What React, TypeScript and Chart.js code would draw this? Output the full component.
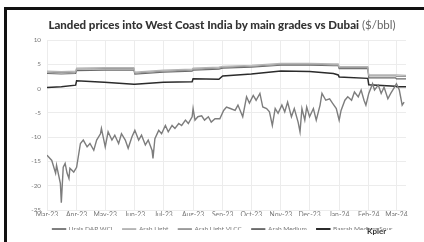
import React, { useEffect, useRef } from "react";
import { Chart, registerables } from "chart.js";

Chart.register(...registerables);

// Month ticks (days since 1 Mar 2023)
const monthDays = [0, 31, 61, 92, 122, 153, 184, 214, 245, 275, 306, 337, 366];
const monthLabels = ["Mar-23", "Apr-23", "May-23", "Jun-23", "Jul-23", "Aug-23", "Sep-23", "Oct-23", "Nov-23", "Dec-23", "Jan-24", "Feb-24", "Mar-24"];

// Urals DAP WCI (noisy series)
const uralsDays = [0, 5, 9, 10, 14, 15, 17, 19, 21, 23, 24, 28, 31, 35, 38, 42, 45, 49, 52, 56, 57, 61, 64, 68, 71, 75, 78, 82, 85, 89, 92, 96, 99, 103, 106, 110, 111, 113, 117, 120, 124, 127, 131, 134, 138, 141, 145, 148, 152, 153, 155, 158, 162, 165, 169, 172, 176, 181, 185, 188, 192, 197, 200, 205, 209, 212, 216, 219, 223, 226, 230, 233, 236, 239, 242, 246, 249, 252, 256, 259, 263, 265, 267, 270, 272, 275, 279, 282, 286, 288, 292, 296, 299, 303, 306, 308, 312, 315, 319, 322, 326, 329, 332, 334, 337, 341, 343, 347, 350, 353, 357, 360, 364, 366, 369, 372, 374];
const uralsValues = [-13.7, -14.8, -17.4, -15.8, -19.5, -23.5, -16.2, -15.4, -17.4, -18.5, -16.4, -17.2, -16.2, -11.3, -10.6, -12.0, -11.3, -12.7, -10.6, -9.3, -8.2, -12.0, -8.9, -10.6, -9.6, -11.3, -9.3, -10.6, -12.3, -9.9, -8.6, -10.6, -9.6, -11.6, -10.6, -12.7, -14.4, -10.3, -8.6, -9.3, -7.6, -8.9, -7.6, -8.2, -7.2, -7.6, -6.5, -7.2, -5.8, -4.1, -6.5, -5.8, -5.6, -6.5, -5.8, -6.9, -6.2, -6.2, -4.5, -3.8, -4.1, -4.5, -3.4, -5.8, -1.7, -3.0, -1.4, -2.4, -1.0, -3.8, -4.1, -4.8, -7.6, -4.1, -5.1, -3.4, -4.8, -2.8, -5.8, -4.1, -6.9, -8.9, -4.1, -6.5, -3.8, -5.8, -4.1, -6.5, -3.4, -1.0, -2.4, -2.1, -3.0, -4.1, -6.5, -4.5, -2.4, -1.7, -2.4, -0.7, -1.7, -0.3, -2.4, -3.4, -1.0, 1.0, -0.3, 0.7, -1.0, 0.3, -2.1, -1.0, 0.3, 1.0, -0.3, -3.4, -2.8];

// Step-like grades
const stepDays = [0, 15, 30, 31, 60, 91, 92, 122, 152, 153, 180, 184, 214, 245, 275, 300, 305, 306, 336, 337, 365, 366, 376];
const arabLight = [3.6, 3.5, 3.6, 4.2, 4.3, 4.3, 3.4, 3.8, 4.0, 4.2, 4.4, 4.6, 4.8, 5.2, 5.2, 5.1, 5.1, 4.5, 4.5, 2.8, 2.8, 2.8, 2.7];
const arabLightVLCC = [3.4, 3.3, 3.4, 4.0, 4.1, 4.1, 3.2, 3.6, 3.8, 4.0, 4.2, 4.4, 4.6, 5.0, 5.0, 4.9, 4.9, 4.3, 4.3, 2.6, 2.6, 2.5, 2.5];
const arabMedium = [3.1, 3.0, 3.1, 3.7, 3.8, 3.8, 3.0, 3.4, 3.6, 3.8, 4.0, 4.2, 4.4, 4.8, 4.8, 4.7, 4.7, 4.1, 4.1, 2.2, 2.2, 2.0, 2.0];
const basrahMediumSour = [0.2, 0.4, 0.7, 1.6, 1.3, 0.9, 0.9, 1.3, 1.4, 2.0, 1.9, 2.6, 3.0, 3.6, 3.5, 3.1, 2.8, 2.4, 2.1, 0.8, 0.5, 0.4, 0.4];

const seriesNames = ["Urals DAP WCI", "Arab Light", "Arab Light VLCC", "Arab Medium", "Basrah Medium Sour"];
const seriesColors = ["#7d7d7d", "#b4b4b4", "#9a9a9a", "#6a6a6a", "#2b2b2b"];
const seriesWidths = [1.4, 1.2, 1.2, 1.2, 1.5];

const yTicks = [10, 5, 0, -5, -10, -15, -20, -25];

function pts(xs: number[], ys: number[]) {
  return xs.map((x, i) => ({ x, y: ys[i] }));
}

// shift the legend row to the right so it is centred under the plot like the reference
const legendShift = {
  id: "legendShift",
  afterLayout(chart: any) {
    const lg = chart.legend;
    if (!lg) return;
    lg.left += 16;
    lg.right += 16;
  },
};

export default function App() {
  const ref = useRef<HTMLCanvasElement | null>(null);
  useEffect(() => {
    if (!ref.current) return;
    const stepSeries = [arabLight, arabLightVLCC, arabMedium, basrahMediumSour];
    const datasets: any[] = [
      {
        label: seriesNames[0],
        data: pts(uralsDays, uralsValues),
        borderColor: seriesColors[0],
        backgroundColor: seriesColors[0],
        borderWidth: seriesWidths[0],
        pointRadius: 0,
        tension: 0,
      },
      ...stepSeries.map((vals, i) => ({
        label: seriesNames[i + 1],
        data: pts(stepDays, vals),
        borderColor: seriesColors[i + 1],
        backgroundColor: seriesColors[i + 1],
        borderWidth: seriesWidths[i + 1],
        pointRadius: 0,
        tension: 0,
      })),
    ];
    const chart = new Chart(ref.current, {
      type: "line",
      data: { datasets },
      plugins: [legendShift],
      options: {
        animation: false,
        responsive: false,
        maintainAspectRatio: false,
        layout: { padding: { left: 7, right: 18, top: 40, bottom: 12 } },
        plugins: {
          title: { display: false },
          tooltip: { enabled: false },
          legend: {
            position: "bottom",
            maxHeight: 14,
            labels: {
              boxWidth: 13,
              boxHeight: 1,
              padding: 10,
              color: "#777",
              font: { family: "Lato", size: 6.5 },
            },
          },
        },
        scales: {
          x: {
            type: "linear",
            min: 0,
            max: 376,
            afterBuildTicks: (s: any) => {
              s.ticks = monthDays.map((v) => ({ value: v }));
            },
            afterFit: (s: any) => {
              s.height = 6;
            },
            ticks: {
              autoSkip: false,
              maxRotation: 0,
              padding: 1,
              color: "#777",
              font: { family: "Lato", size: 6.8 },
              callback: (v: any) => {
                const i = monthDays.indexOf(Number(v));
                return i >= 0 ? monthLabels[i] : "";
              },
            },
            grid: { color: "#ececec", drawTicks: false, lineWidth: 1 },
            border: { display: false },
          },
          y: {
            min: -25,
            max: 10,
            afterBuildTicks: (s: any) => {
              s.ticks = yTicks.map((v) => ({ value: v }));
            },
            afterFit: (s: any) => {
              s.width = 40;
            },
            ticks: {
              padding: 6,
              color: "#777",
              font: { family: "Lato", size: 6.3 },
            },
            grid: { color: "#ececec", drawTicks: false, lineWidth: 1 },
            border: { display: false },
          },
        },
      },
    });
    return () => chart.destroy();
  }, []);

  return (
    <div style={{ position: "fixed", left: 0, top: 0, width: 424, height: 242, background: "#fff", overflow: "hidden" }}>
      <div style={{ position: "absolute", left: 4, top: 7, right: -10, bottom: -10, borderTop: "3px solid #111", borderLeft: "3px solid #111" }} />
      <canvas ref={ref} width={424} height={242} style={{ position: "absolute", left: 0, top: 0, width: 424, height: 242 }} />
      <div
        style={{
          position: "absolute",
          left: 0,
          width: 444,
          top: 18,
          textAlign: "center",
          fontFamily: "Lato, sans-serif",
          fontSize: 11.5,
          lineHeight: "13px",
          color: "#333",
          whiteSpace: "nowrap",
        }}
      >
        <span style={{ fontWeight: 900 }}>Landed prices into West Coast India by main grades vs Dubai</span>{" "}
        <span style={{ fontWeight: 400, color: "#666" }}>($/bbl)</span>
      </div>
      <div
        style={{
          position: "absolute",
          left: 367,
          top: 226,
          fontFamily: "Lato, sans-serif",
          fontSize: 8,
          lineHeight: "10px",
          fontWeight: 700,
          color: "#333",
        }}
      >
        Kpler
      </div>
    </div>
  );
}
